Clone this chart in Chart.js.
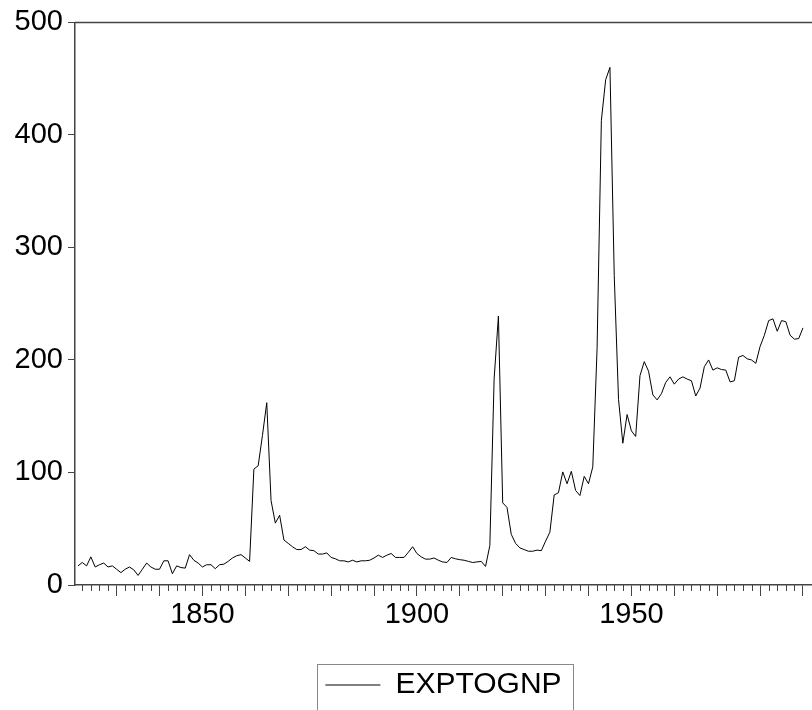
<!DOCTYPE html>
<html>
<head>
<meta charset="utf-8">
<script src="https://cdn.jsdelivr.net/npm/chart.js@4.4.1/dist/chart.umd.min.js"></script>
<style>
  html, body { margin: 0; padding: 0; background: #fff; }
</style>
</head>
<body>
<canvas id="chart" width="812" height="710"></canvas>
<script>
// annual data, 1821 - 1990
const firstYear = 1821;
const expToGnp = [
  17, 20, 17, 25, 16, 18, 19.5, 16, 17, 14,            // 1821-1830
  11, 14, 16, 13.5, 8.5, 14, 19.5, 16, 14, 14,         // 1831-1840
  21.5, 21.5, 10, 17, 15.5, 15, 27, 22, 19.5, 16,      // 1841-1850
  18, 18, 14.5, 18, 18.5, 21, 24, 26, 27, 24,          // 1851-1860
  21, 103, 106, 133, 162, 75, 55, 62, 40, 37,          // 1861-1870
  34, 31.5, 31.5, 34, 31, 30.5, 27.5, 27.5, 28.5, 24.5,// 1871-1880
  23.3, 21.5, 21.5, 20.5, 22, 20.5, 21.5, 21.5, 22, 24,// 1881-1890
  26.5, 24.5, 26.5, 28, 24.5, 24.5, 24.5, 29, 34, 28,  // 1891-1900
  25, 23, 23, 24, 22, 20.5, 20, 24.5, 23.3, 22.5,      // 1901-1910
  22, 21, 20, 20.5, 21, 16.5, 35, 183, 239, 73,        // 1911-1920
  69, 45, 37, 33, 31.5, 30, 30, 31, 30.5, 39,          // 1921-1930
  47, 80, 82, 100.5, 90, 101, 84, 79.5, 96.5, 90,      // 1931-1940
  105, 210, 413, 449, 460, 275, 165, 126, 151.5, 137,  // 1941-1950
  132, 186, 198.5, 190, 169, 164.5, 170, 180, 185, 178.5, // 1951-1960
  183, 185, 183, 181.5, 168, 175, 194, 200, 191, 193,  // 1961-1970
  191.5, 191, 180.5, 181.5, 202.5, 204, 201, 200, 197, 212, // 1971-1980
  222, 235, 236.5, 225.5, 235, 234, 222, 218.5, 219, 228.5  // 1981-1990
];
const seriesLabel = "EXPTOGNP";

const yTickValues = [0, 100, 200, 300, 400, 500];
const xLabelYears = [1850, 1900, 1950];
const majorTickYears = [1830, 1840, 1850, 1860, 1870, 1880, 1890, 1900, 1910,
  1920, 1930, 1940, 1950, 1960, 1970, 1980, 1990];

const points = expToGnp.map((v, i) => ({ x: firstYear + i, y: v }));

const axisColor = "#444";
const fontFamily = "'Liberation Sans', Arial, sans-serif";
const tickFont = { family: fontFamily, size: 29 };
const legendFont = { family: fontFamily, size: 30 };

// short ticks every 2 years + top frame line + box round the legend
const extras = {
  id: "extras",
  afterDraw(chart) {
    const ctx = chart.ctx;
    const xs = chart.scales.x;
    const area = chart.chartArea;
    ctx.save();
    ctx.strokeStyle = axisColor;
    ctx.lineWidth = 1;
    for (let yr = 1822; yr <= 1990; yr += 2) {
      if (yr % 10 === 0) continue;
      const px = Math.round(xs.getPixelForValue(yr)) + 0.5;
      ctx.beginPath();
      ctx.moveTo(px, xs.top);
      ctx.lineTo(px, xs.top + 6);
      ctx.stroke();
    }
    ctx.lineWidth = 1.5;
    ctx.beginPath();
    ctx.moveTo(area.left, area.top);
    ctx.lineTo(area.right, area.top);
    ctx.stroke();

    const hb = chart.legend.legendHitBoxes[0];
    if (hb) {
      ctx.strokeStyle = "#888";
      ctx.lineWidth = 1;
      ctx.strokeRect(Math.round(hb.left - 8) + 0.5, 664.5, Math.round(hb.width + 20), 80);
    }
    ctx.restore();
  }
};

new Chart(document.getElementById("chart"), {
  type: "line",
  data: {
    datasets: [{
      label: seriesLabel,
      data: points,
      borderColor: "#000",
      borderWidth: 1,
      pointRadius: 0,
      tension: 0,
      fill: false
    }]
  },
  options: {
    responsive: false,
    animation: false,
    devicePixelRatio: 1,
    layout: { padding: { top: 22, left: 0, right: 0, bottom: 0 } },
    plugins: {
      tooltip: { enabled: false },
      legend: {
        position: "bottom",
        fullSize: false,
        labels: {
          usePointStyle: true,
          pointStyle: "line",
          pointStyleWidth: 55,
          color: "#000",
          font: legendFont,
          padding: 10
        }
      }
    },
    scales: {
      x: {
        type: "linear",
        min: 1820.3,
        max: 1992.1,
        afterBuildTicks: (s) => { s.ticks = majorTickYears.map(v => ({ value: v })); },
        afterFit: (s) => { s.height = 75; },
        ticks: {
          autoSkip: false,
          maxRotation: 0,
          padding: 2,
          color: "#000",
          font: tickFont,
          callback: (v) => xLabelYears.includes(v) ? String(v) : ""
        },
        grid: { drawOnChartArea: false, tickLength: 11, color: axisColor, lineWidth: 1 },
        border: { color: axisColor, width: 1.5 }
      },
      y: {
        min: 0,
        max: 500,
        afterBuildTicks: (s) => { s.ticks = yTickValues.map(v => ({ value: v })); },
        afterFit: (s) => { s.width = 75; },
        ticks: { padding: 5, color: "#000", font: tickFont },
        grid: { drawOnChartArea: false, tickLength: 7, color: axisColor, lineWidth: 1 },
        border: { color: axisColor, width: 1.5 }
      }
    }
  },
  plugins: [extras]
});
</script>
</body>
</html>
